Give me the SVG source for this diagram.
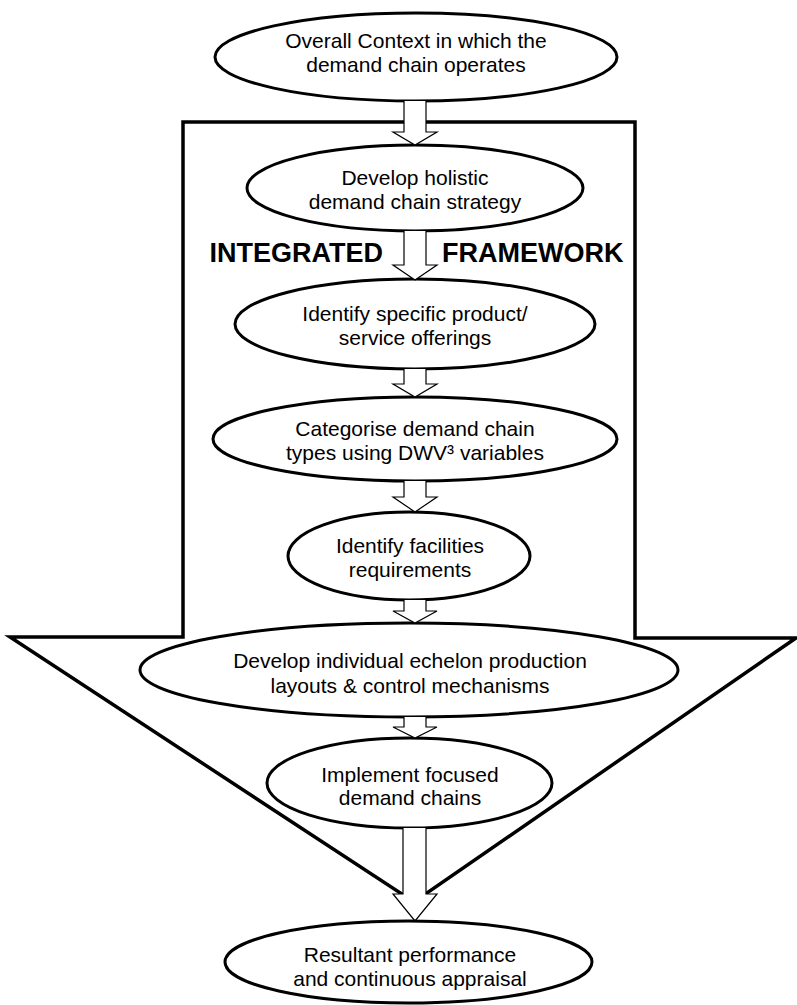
<svg xmlns="http://www.w3.org/2000/svg" width="797" height="1005" viewBox="0 0 797 1005">
<style>
.node ellipse{fill:#fff;stroke:#000;stroke-width:3}
.node text{font-family:"Liberation Sans",Arial,sans-serif;font-size:21px;fill:#000;text-anchor:middle}
.frame{fill:#fff;stroke:#000;stroke-width:3.5;stroke-linejoin:miter}
.label{font-family:"Liberation Sans",Arial,sans-serif;font-size:27px;font-weight:bold;fill:#000}
.conn path{fill:#fff;stroke:#000;stroke-width:1.2;stroke-linejoin:miter}
</style>
<rect width="797" height="1005" fill="#fff"/>
<g id="framework">
<path class="frame" d="M183,122 H635 V638 H796 L414,902 L10,637 H183 Z"/>
<text class="label" x="383" y="262" text-anchor="end">INTEGRATED</text>
<text class="label" x="442" y="262">FRAMEWORK</text>
</g>
<g id="context" class="node">
<ellipse cx="416" cy="57" rx="201" ry="44"/>
<text x="416" y="48">Overall Context in which the</text>
<text x="416" y="72">demand chain operates</text>
</g>
<g id="strategy" class="node">
<ellipse cx="415" cy="188" rx="168" ry="43"/>
<text x="415" y="185">Develop holistic</text>
<text x="415" y="209">demand chain strategy</text>
</g>
<g id="offerings" class="node">
<ellipse cx="415" cy="324" rx="180" ry="45"/>
<text x="415" y="321">Identify specific product/</text>
<text x="415" y="345">service offerings</text>
</g>
<g id="categorise" class="node">
<ellipse cx="415" cy="439" rx="202" ry="42"/>
<text x="415" y="436">Categorise demand chain</text>
<text x="415" y="460">types using DWV³ variables</text>
</g>
<g id="facilities" class="node">
<ellipse cx="409" cy="556" rx="121" ry="44"/>
<text x="410" y="553">Identify facilities</text>
<text x="410" y="577">requirements</text>
</g>
<g id="layouts" class="node">
<ellipse cx="409" cy="670" rx="269" ry="47"/>
<text x="410" y="668">Develop individual echelon production</text>
<text x="410" y="693">layouts &amp; control mechanisms</text>
</g>
<g id="implement" class="node">
<ellipse cx="409.5" cy="783" rx="142.5" ry="45"/>
<text x="410" y="782">Implement focused</text>
<text x="410" y="805">demand chains</text>
</g>
<g id="connectors" class="conn">
<path d="M404,101 V132 H393 L415,145 L437,132 H426 V101"/>
<path d="M404,231 V265 H393 L415,280 L437,265 H426 V231"/>
<path d="M404,369 V384 H393 L415,397 L437,384 H426 V369"/>
<path d="M404,481 V497 H393 L415,512 L437,497 H426 V481"/>
<path d="M404,600 V611 H393 L415,623 L437,611 H426 V600"/>
<path d="M404,717 V727 H393 L415,738 L437,727 H426 V717"/>
<path d="M403,828 V894 H393 L415,921 L437,894 H426 V828"/>
</g>
<g id="result" class="node">
<ellipse cx="408.5" cy="962" rx="183.5" ry="41"/>
<text x="410" y="962">Resultant performance</text>
<text x="410" y="986">and continuous appraisal</text>
</g>
</svg>
